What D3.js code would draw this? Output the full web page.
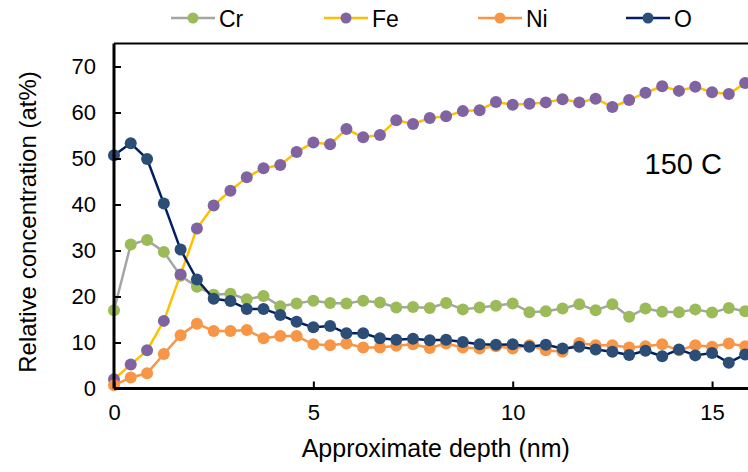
<!DOCTYPE html>
<html>
<head>
<meta charset="utf-8">
<script src="https://cdn.jsdelivr.net/npm/d3@7"></script>
<style>
  html, body { margin: 0; padding: 0; background: #fff; }
  svg { display: block; font-family: "Liberation Sans", Arial, sans-serif; }
</style>
</head>
<body>
<svg id="chart" width="748" height="472"></svg>
<script>
// Sputter depth profile, relative concentration per element
const depth = [0, 0.42, 0.83, 1.25, 1.67, 2.08, 2.5, 2.92, 3.33, 3.75, 4.17, 4.58, 5, 5.42, 5.83,
  6.25, 6.67, 7.08, 7.5, 7.92, 8.33, 8.75, 9.17, 9.58, 10, 10.42, 10.83, 11.25, 11.67, 12.08,
  12.5, 12.92, 13.33, 13.75, 14.17, 14.58, 15, 15.42, 15.83];

const cr = [17.0, 31.3, 32.3, 29.7, 24.5, 22.1, 20.4, 20.6, 19.4, 20.1, 17.9, 18.5, 19.1, 18.6, 18.5,
  19.1, 18.7, 17.6, 17.7, 17.5, 18.6, 17.2, 17.6, 18.0, 18.5, 16.6, 16.8, 17.4, 18.3, 17.0,
  18.3, 15.6, 17.4, 16.7, 16.6, 17.2, 16.5, 17.5, 16.8];
const fe = [2.0, 5.2, 8.3, 14.7, 24.8, 34.8, 39.8, 43.0, 45.9, 47.9, 48.6, 51.4, 53.5, 53.1, 56.4,
  54.6, 55.1, 58.3, 57.5, 58.8, 59.2, 60.3, 60.5, 62.3, 61.7, 61.9, 62.2, 62.9, 62.2, 63.0,
  61.2, 62.7, 64.3, 65.7, 64.7, 65.6, 64.4, 64.0, 66.4];
const ni = [0.7, 2.4, 3.3, 7.5, 11.6, 14.1, 12.5, 12.5, 12.7, 10.9, 11.4, 11.4, 9.6, 9.4, 9.8,
  8.9, 8.9, 9.3, 9.6, 8.8, 9.8, 8.9, 8.7, 9.2, 8.7, 9.4, 8.3, 8.0, 9.9, 9.4,
  9.4, 8.9, 9.2, 9.6, 8.3, 9.4, 9.1, 9.8, 9.2];
const ox = [50.7, 53.3, 49.9, 40.2, 30.2, 23.7, 19.5, 19.0, 17.3, 17.3, 16.0, 14.5, 13.3, 13.6, 12.0,
  12.0, 10.9, 10.6, 10.8, 10.5, 10.6, 10.1, 9.6, 9.5, 9.6, 9.1, 9.5, 8.7, 9.1, 8.5,
  8.0, 7.3, 8.2, 7.0, 8.5, 7.2, 7.7, 5.6, 7.4];

const seriesNames = ["Cr", "Fe", "Ni", "O"];
const seriesValues = [cr, fe, ni, ox];
const lineColors = ["#A5A5A5", "#FFC000", "#F79646", "#002060"];
const markerColors = ["#9BBB59", "#8064A2", "#F79646", "#2C4D75"];

const xTicks = [0, 5, 10, 15];
const yTicks = [0, 10, 20, 30, 40, 50, 60, 70];
const xTitle = "Approximate depth (nm)";
const yTitle = "Relative concentration (at%)";
const note = "150 C";

const svg = d3.select("#chart");
const plotLeft = 114, plotTop = 43.5, plotBottom = 388.5;

const x = d3.scaleLinear().domain([0, 16]).range([plotLeft, plotLeft + 16 * 39.87]);
const y = d3.scaleLinear().domain([0, 75]).range([plotBottom, plotTop]);

// Plot frame: top edge
svg.append("line")
  .attr("x1", plotLeft).attr("x2", 748).attr("y1", plotTop).attr("y2", plotTop)
  .attr("stroke", "#000").attr("stroke-width", 2);

// Series: line first, then markers, in legend order
const line = d3.line().x((d, i) => x(depth[i])).y(d => y(d));
seriesValues.forEach((vals, s) => {
  const g = svg.append("g");
  g.append("path")
    .datum(vals)
    .attr("d", line)
    .attr("fill", "none")
    .attr("stroke", lineColors[s])
    .attr("stroke-width", 2.5)
    .attr("stroke-linejoin", "round");
  g.selectAll("circle")
    .data(vals)
    .join("circle")
    .attr("cx", (d, i) => x(depth[i]))
    .attr("cy", d => y(d))
    .attr("r", 6)
    .attr("fill", markerColors[s]);
});

// Axes with inward ticks
const xAxis = svg.append("g")
  .attr("transform", `translate(0,${plotBottom})`)
  .call(d3.axisBottom(x).tickValues(xTicks).tickSize(-7).tickPadding(16).tickFormat(d3.format("d")));
xAxis.select(".domain").attr("d", `M${plotLeft},0H748`).attr("stroke-width", 3);
xAxis.selectAll(".tick line").attr("stroke-width", 2);

const yAxis = svg.append("g")
  .attr("transform", `translate(${plotLeft},0)`)
  .call(d3.axisLeft(y).tickValues(yTicks).tickSize(-7).tickPadding(18).tickFormat(d3.format("d")));
yAxis.select(".domain").attr("d", `M0,${plotTop}V${plotBottom}`).attr("stroke-width", 3);
yAxis.selectAll(".tick line").attr("stroke-width", 2);

svg.selectAll(".tick text")
  .attr("font-size", 22)
  .attr("font-family", "Liberation Sans, Arial, sans-serif")
  .attr("fill", "#000");

// Axis titles
svg.append("text")
  .attr("x", x(8.07)).attr("y", 457)
  .attr("text-anchor", "middle")
  .attr("font-size", 25)
  .text(xTitle);
svg.append("text")
  .attr("transform", `translate(36,${(plotTop + plotBottom) / 2 + 6}) rotate(-90)`)
  .attr("text-anchor", "middle")
  .attr("font-size", 24)
  .text(yTitle);

// Annotation
svg.append("text")
  .attr("x", 722).attr("y", 174)
  .attr("text-anchor", "end")
  .attr("font-size", 29)
  .text(note);

// Legend
const legendX = [171, 324, 478, 626];
const legend = svg.append("g");
seriesNames.forEach((name, s) => {
  const g = legend.append("g").attr("transform", `translate(${legendX[s]},18)`);
  g.append("line").attr("x1", 0).attr("x2", 44).attr("y1", 0).attr("y2", 0)
    .attr("stroke", lineColors[s]).attr("stroke-width", 2.5);
  g.append("circle").attr("cx", 22).attr("cy", 0).attr("r", 5.5).attr("fill", markerColors[s]);
  g.append("text").attr("x", 48).attr("y", 8.5).attr("font-size", 23).text(name);
});
</script>
</body>
</html>
